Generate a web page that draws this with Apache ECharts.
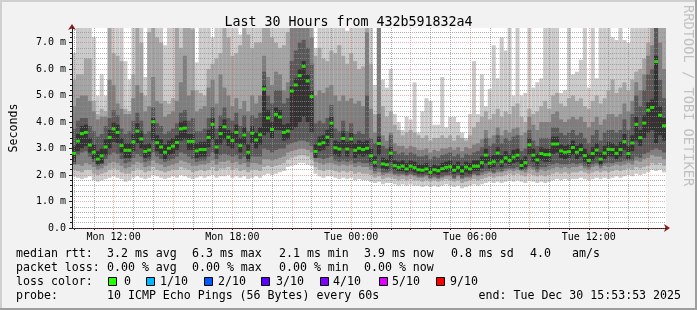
<!DOCTYPE html>
<html>
<head>
<meta charset="utf-8">
<script src="https://cdn.jsdelivr.net/npm/echarts@6/dist/echarts.min.js"></script>
<style>
  html, body { margin: 0; padding: 0; background: #f2f2f2; }
  #chart { width: 697px; height: 310px; }
</style>
</head>
<body>
<div id="chart"></div>
<script>
// 150 steps of 12 minutes, Mon 09:54 .. Tue 15:54 (ms)
const medianRtt = [
  2.82,3.28,3.56,3.61,3.13,2.86,2.60,2.72,3.06,3.42,3.74,3.61,3.11,2.93,2.93,3.25,3.66,3.36,2.89,2.94,4.01,3.22,3.06,2.86,3.01,3.09,3.23,3.74,3.77,3.27,3.27,2.91,2.96,2.96,3.42,3.91,3.06,3.56,
  3.82,3.43,3.30,3.61,3.11,3.51,2.86,3.58,3.32,3.52,5.25,4.15,3.72,4.29,4.19,3.61,3.66,5.17,5.40,5.75,6.10,5.55,4.96,2.89,3.17,3.22,3.43,3.96,3.03,2.98,3.38,2.98,3.36,2.93,3.01,2.96,3.01,2.72,
  2.48,3.19,2.42,2.39,2.83,2.35,2.29,2.33,2.23,2.33,2.28,2.20,2.18,2.23,2.10,2.20,2.16,2.24,2.29,2.31,2.18,2.29,2.15,2.30,2.23,2.33,2.33,2.47,2.75,2.45,2.50,2.83,2.50,2.65,2.55,2.68,2.75,
  2.36,2.47,3.14,2.75,2.57,2.81,2.77,2.77,3.17,3.17,2.91,2.86,2.88,3.04,2.86,2.96,2.73,2.55,2.81,2.94,2.60,2.83,2.97,2.96,2.82,2.96,3.26,2.81,3.21,3.91,3.41,3.96,4.45,4.55,6.28,4.26,3.86
];

// sorted pings per step, ping1 = fastest .. ping10 = slowest (ms)
const ping1 = [
  1.95,1.9,1.85,1.9,1.95,1.8,1.75,1.8,1.85,1.9,1.95,1.9,1.85,1.75,1.8,1.9,1.95,1.9,1.85,1.9,2.0,1.95,1.9,1.85,1.9,1.95,1.9,2.0,1.95,1.9,1.85,1.9,1.95,1.9,1.95,2.0,1.9,1.95,
  1.95,2.0,1.9,1.95,1.9,1.95,1.85,1.9,1.95,1.9,2.0,2.05,2.0,2.05,2.1,2.15,2.3,2.35,2.4,2.45,2.45,2.4,2.35,2.05,1.95,1.9,1.95,1.95,1.9,1.85,1.9,1.85,1.9,1.8,1.85,1.8,1.8,1.75,
  1.7,1.75,1.65,1.7,1.7,1.65,1.6,1.65,1.6,1.65,1.6,1.6,1.55,1.6,1.55,1.6,1.55,1.6,1.65,1.6,1.55,1.6,1.5,1.55,1.6,1.65,1.6,1.65,1.7,1.75,1.7,1.75,1.7,1.75,1.8,1.75,1.8,
  1.75,1.7,1.8,1.75,1.7,1.75,1.7,1.75,1.8,1.85,1.8,1.85,1.8,1.85,1.85,1.9,1.85,1.8,1.85,1.9,1.85,1.9,1.85,1.9,1.95,1.9,1.95,2.0,1.95,2.05,2.0,2.05,2.1,2.2,2.15,2.2,2.1
];
const ping2 = [
  2.2,2.15,2.1,2.2,2.2,2.05,2.0,2.05,2.1,2.2,2.25,2.2,2.1,2.05,2.05,2.15,2.25,2.2,2.1,2.15,2.3,2.2,2.15,2.1,2.15,2.2,2.2,2.3,2.25,2.2,2.1,2.15,2.2,2.15,2.2,2.3,2.15,2.25,
  2.25,2.3,2.2,2.25,2.15,2.2,2.1,2.2,2.2,2.15,2.3,2.35,2.3,2.35,2.4,2.45,2.6,2.65,2.7,2.75,2.75,2.7,2.6,2.3,2.2,2.15,2.2,2.2,2.15,2.1,2.15,2.1,2.15,2.05,2.1,2.05,2.05,2.0,
  1.9,1.95,1.85,1.9,1.9,1.85,1.8,1.85,1.8,1.85,1.8,1.8,1.75,1.8,1.75,1.8,1.75,1.8,1.85,1.8,1.75,1.8,1.7,1.75,1.8,1.85,1.8,1.85,1.9,1.95,1.9,1.95,1.95,2.0,2.05,2.0,2.05,
  2.0,1.95,2.05,2.0,1.95,2.0,1.95,2.0,2.05,2.1,2.05,2.1,2.05,2.1,2.1,2.15,2.1,2.05,2.1,2.15,2.1,2.15,2.1,2.15,2.2,2.15,2.2,2.25,2.2,2.3,2.25,2.3,2.35,2.45,2.4,2.45,2.35
];
const ping3 = [
  2.4,2.4,2.35,2.45,2.4,2.3,2.2,2.25,2.35,2.45,2.5,2.45,2.35,2.25,2.3,2.4,2.5,2.45,2.3,2.35,2.55,2.45,2.4,2.3,2.35,2.4,2.45,2.55,2.5,2.45,2.35,2.35,2.4,2.4,2.45,2.55,2.4,2.5,
  2.5,2.55,2.45,2.5,2.4,2.45,2.3,2.45,2.45,2.4,2.6,2.6,2.55,2.6,2.65,2.7,2.85,2.9,2.95,3.0,3.0,2.95,2.85,2.5,2.45,2.4,2.45,2.45,2.4,2.35,2.4,2.35,2.4,2.3,2.35,2.3,2.3,2.2,
  2.05,2.1,2.0,2.05,2.05,2.0,1.95,2.0,1.95,2.0,1.95,1.9,1.9,1.95,1.85,1.9,1.85,1.9,1.95,1.95,1.85,1.95,1.85,1.9,1.9,2.0,1.95,2.0,2.05,2.1,2.05,2.1,2.1,2.15,2.2,2.15,2.2,
  2.15,2.1,2.25,2.2,2.1,2.2,2.15,2.2,2.25,2.3,2.25,2.3,2.25,2.3,2.3,2.35,2.25,2.2,2.3,2.35,2.25,2.35,2.3,2.35,2.4,2.35,2.4,2.45,2.4,2.55,2.5,2.6,2.65,2.75,2.7,2.7,2.6
];
const ping4 = [
  2.4,2.75,2.85,2.9,2.7,2.5,2.35,2.4,2.6,2.75,2.85,2.8,2.6,2.45,2.5,2.65,2.8,2.7,2.5,2.55,2.85,2.7,2.6,2.5,2.55,2.6,2.7,2.85,2.8,2.7,2.6,2.5,2.55,2.55,2.7,2.85,2.6,2.75,
  2.8,2.75,2.7,2.75,2.6,2.7,2.5,2.7,2.7,2.7,3.0,2.95,2.85,2.95,3.0,3.0,3.15,3.2,3.25,3.3,3.3,3.25,3.1,2.65,2.65,2.6,2.65,2.7,2.55,2.5,2.55,2.5,2.55,2.45,2.5,2.45,2.45,2.35,
  2.15,2.25,2.1,2.1,2.15,2.05,2.05,2.05,2.0,2.05,2.0,1.95,1.95,2.0,1.9,1.95,1.9,1.95,2.0,2.0,1.9,2.0,1.9,1.95,1.95,2.05,2.0,2.1,2.15,2.15,2.1,2.2,2.15,2.25,2.25,2.25,2.3,
  2.2,2.2,2.35,2.3,2.2,2.3,2.3,2.35,2.4,2.45,2.4,2.4,2.4,2.45,2.4,2.45,2.35,2.3,2.4,2.45,2.35,2.45,2.45,2.45,2.5,2.5,2.55,2.55,2.55,2.7,2.65,2.8,2.85,2.95,3.0,2.95,2.85
];
const ping5 = [
  2.5,2.9,3.0,3.1,2.85,2.6,2.4,2.45,2.75,3.0,3.25,3.2,2.85,2.65,2.65,2.9,3.2,3.0,2.65,2.7,3.3,2.9,2.8,2.6,2.75,2.8,2.95,3.3,3.35,2.95,2.95,2.65,2.7,2.7,3.05,3.35,2.8,3.15,
  3.35,3.1,3.0,3.2,2.85,3.15,2.6,3.2,3.0,3.15,3.5,3.6,3.4,3.7,3.7,3.3,3.35,3.7,3.8,4.0,4.2,4.0,3.6,2.65,2.9,2.95,3.1,3.4,2.75,2.7,3.0,2.7,3.0,2.65,2.75,2.7,2.75,2.5,
  2.3,2.75,2.25,2.2,2.5,2.2,2.15,2.15,2.1,2.15,2.1,2.05,2.05,2.1,2.0,2.05,2.0,2.1,2.1,2.15,2.05,2.1,2.0,2.1,2.05,2.15,2.15,2.25,2.45,2.25,2.3,2.5,2.3,2.45,2.35,2.45,2.5,
  2.2,2.3,2.75,2.5,2.35,2.55,2.5,2.5,2.8,2.85,2.65,2.6,2.65,2.75,2.6,2.7,2.5,2.4,2.55,2.7,2.4,2.6,2.7,2.7,2.6,2.7,2.95,2.6,2.9,3.3,3.1,3.4,3.6,3.7,3.2,3.5,3.3
];
const ping6 = [
  3.1,3.55,3.85,3.9,3.4,3.15,2.9,3.0,3.35,3.7,4.0,3.9,3.4,3.2,3.2,3.55,3.95,3.65,3.15,3.2,4.15,3.5,3.35,3.15,3.3,3.4,3.5,4.0,4.05,3.55,3.55,3.2,3.25,3.25,3.7,4.15,3.35,3.85,
  4.1,3.7,3.6,3.9,3.4,3.8,3.15,3.85,3.6,3.8,5.4,4.45,4.0,4.55,4.45,3.9,3.95,5.35,5.65,6.0,6.3,5.8,5.2,3.15,3.45,3.5,3.7,4.2,3.3,3.25,3.65,3.25,3.6,3.2,3.3,3.25,3.3,3.0,
  2.7,3.45,2.65,2.6,3.05,2.55,2.5,2.55,2.45,2.55,2.5,2.4,2.4,2.45,2.3,2.4,2.35,2.45,2.5,2.55,2.4,2.5,2.35,2.5,2.45,2.55,2.55,2.7,3.0,2.7,2.75,3.05,2.75,2.9,2.8,2.95,3.0,
  2.6,2.7,3.4,3.0,2.8,3.05,3.0,3.0,3.45,3.45,3.15,3.1,3.15,3.3,3.1,3.2,3.0,2.8,3.05,3.2,2.85,3.1,3.25,3.2,3.1,3.25,3.55,3.1,3.5,4.2,3.7,4.25,4.75,4.85,6.5,4.6,4.15
];
const ping7 = [
  3.75,4.05,4.15,4.15,3.85,3.65,3.45,3.55,3.85,4.15,4.45,4.25,3.75,3.55,3.65,4.05,4.35,4.05,3.55,3.65,4.55,3.95,3.85,3.55,3.65,3.75,3.95,4.35,4.45,4.05,4.15,3.65,3.65,3.75,4.15,4.55,3.75,4.25,
  4.55,4.15,4.05,4.35,3.85,4.25,3.65,4.25,4.15,4.35,5.9,5.0,4.7,5.2,5.2,4.7,4.9,6.3,6.7,7.0,7.1,6.8,6.2,3.95,4.05,3.95,4.15,4.65,3.75,3.65,4.05,3.65,3.95,3.55,3.65,3.55,5.0,3.4,
  3.2,4.3,3.1,3.0,3.5,2.9,2.8,2.85,2.75,2.85,2.8,2.7,2.7,2.75,2.6,2.7,2.65,2.75,2.8,2.85,2.7,2.8,2.65,2.8,2.75,2.85,2.9,3.05,3.4,3.1,3.2,3.5,3.2,3.4,3.3,3.45,3.5,
  2.9,3.0,3.7,3.3,3.1,3.4,3.4,3.4,3.8,3.8,3.6,3.5,3.6,3.7,3.5,3.6,3.4,3.2,3.5,3.7,3.3,3.6,3.7,3.7,3.6,3.7,4.1,3.7,4.3,5.0,4.6,5.2,5.8,6.0,8.0,5.6,4.9
];
const ping8 = [
  4.6,4.9,5.0,5.0,4.8,4.4,4.1,4.2,4.2,5.6,5.4,4.7,4.5,4.3,4.3,4.9,5.4,5.1,4.4,4.6,5.7,4.8,4.7,4.2,4.3,4.4,4.8,5.5,6.5,5.0,5.2,4.4,4.5,4.6,5.3,5.6,4.7,5.8,
  5.3,5.0,4.6,4.9,4.5,4.8,4.4,5.0,4.7,5.0,6.5,5.7,5.4,5.9,5.8,5.2,5.5,7.6,7.8,8.0,8.0,7.8,7.2,5.0,5.2,5.1,5.3,5.4,5.0,4.8,5.0,4.8,4.9,4.7,4.8,4.6,7.4,4.5,
  3.6,8.0,3.5,3.3,3.6,3.2,3.1,3.1,3.0,3.1,3.05,2.95,2.95,3.0,2.85,2.95,2.9,3.0,3.0,3.05,2.95,3.05,2.9,3.05,3.0,3.15,3.2,3.35,3.7,3.4,3.5,3.8,3.5,3.7,3.6,3.75,3.8,
  3.5,3.6,4.2,3.9,3.7,4.0,4.0,4.0,4.3,4.4,4.1,4.0,4.1,4.2,4.1,4.2,4.0,3.8,4.0,4.2,3.9,4.1,4.3,4.3,4.2,4.3,4.7,4.4,4.8,5.5,5.2,5.8,6.5,6.9,8.0,7.0,6.0
];
const ping9 = [
  5.6,5.8,5.8,6.4,6.4,4.8,4.3,4.5,4.4,8.0,6.6,6.5,6.3,4.5,4.4,5.8,7.8,7.0,5.0,7.4,7.6,7.2,7.0,4.8,4.7,4.9,8.0,6.8,8.0,8.0,7.5,5.2,5.1,5.0,6.0,6.2,6.4,6.6,
  7.8,7.2,6.5,6.6,6.9,8.0,7.3,6.8,7.0,7.0,8.0,8.0,7.2,7.0,6.8,6.9,7.4,8.0,8.0,8.0,8.0,8.0,8.0,6.5,6.8,6.4,6.3,6.7,6.6,6.9,6.5,6.2,6.6,6.3,6.0,6.1,8.0,6.2,
  4.3,8.0,4.6,4.2,4.4,3.9,3.7,3.5,3.6,3.7,3.6,3.5,3.4,3.5,3.3,3.4,3.4,3.5,3.4,3.5,3.3,3.5,3.4,3.3,3.5,3.8,4.0,4.2,4.4,4.1,4.3,4.5,4.2,4.4,4.3,4.6,4.7,
  4.2,4.0,4.5,4.3,4.4,4.6,4.8,4.5,5.0,5.1,4.7,4.6,4.9,5.0,4.8,4.9,4.6,4.5,4.8,5.0,4.7,4.9,5.2,5.6,5.1,5.3,5.5,5.2,5.6,5.9,6.0,6.4,7.0,7.6,8.0,8.0,7.8
];
const ping10 = [
  6.6,8,8,8,8,7.2,5.0,5.8,5.0,8,8,8,8,6.3,5.6,8,8,8,5.7,8,8,8,8,6.9,8,8,8,8,8,8,8,6.25,8,8,8,7.2,8,8,
  8,8,8,8,7.3,8,8,8,8,8,8,8,8,8,8,8,8,8,8,8,8,8,8,6.8,8,8,8,8,8,8,8,7.45,8,8,8,8,8,8,
  5.4,8,5.6,5.3,6.0,4.3,4.0,3.7,4.2,4.1,5.5,3.6,4.4,4.9,4.8,3.9,3.9,5.7,3.8,4.2,4.2,4.0,3.6,3.4,4.3,6.3,4.3,5.8,4.6,5.25,6.9,5.65,7.2,6.7,8,5.0,8,
  5.0,5.1,8,5.3,5.5,5.65,8,8,8,8,5.1,5.2,8,5.8,5.9,6.35,8,5.3,8,5.65,8,8,8,7.2,7.1,8,7.1,7.0,8,8,8,8,8,8,8,8,8
];

// time axis (hours since Mon 00:00)
const startHour = 9.9;
const endHour = 39.9;
const stepHours = 0.2;
const hourTicks = [10,11,12,13,14,15,16,17,18,19,20,21,22,23,24,25,26,27,28,29,30,31,32,33,34,35,36,37,38,39];
const labelHours = [12, 18, 24, 30, 36];
const labelTexts = ['Mon 12:00', 'Mon 18:00', 'Tue 00:00', 'Tue 06:00', 'Tue 12:00'];
const yMajor = [0, 1, 2, 3, 4, 5, 6, 7];
const yMinor = [];
for (let i = 1; i <= 37; i++) if (i % 5) yMinor.push(+(i * 0.2).toFixed(1));
const yMax = 7.55;

// legend texts
const rttStats = ['3.2 ms avg', '6.3 ms max', '2.1 ms min', '3.9 ms now', '0.8 ms sd', '4.0', 'am/s'];
const lossStats = ['0.00 % avg', '0.00 % max', '0.00 % min', '0.00 % now'];
const lossLabels = ['0', '1/10', '2/10', '3/10', '4/10', '5/10', '9/10'];
const lossColors = ['#26ff00', '#00b8ff', '#0059ff', '#5e00ff', '#7e00ff', '#dd00ff', '#ff0000'];
const probeText = '10 ICMP Echo Pings (56 Bytes) every 60s';
const endText = 'end: Tue Dec 30 15:53:53 2025';

const MONO = '"DejaVu Sans Mono", monospace';
const chart = echarts.init(document.getElementById('chart'));

const steps = medianRtt.map((_, i) => (startHour + stepHours * (i + 0.5)).toFixed(1));

// smoke: band i spans ping(i) .. ping(11-i), darker towards the median
const bands = [
  [ping1, ping10, '#cacaca'],
  [ping2, ping9, '#a4a4a4'],
  [ping3, ping8, '#7e7e7e'],
  [ping4, ping7, '#585858'],
  [ping5, ping6, '#323232']
];
const series = [];
bands.forEach(([lo, hi, color], i) => {
  const common = { type: 'bar', stack: 'smoke' + i, barWidth: 4, barGap: '-100%', silent: true, z: 2 };
  series.push(Object.assign({}, common, { data: lo, itemStyle: { color: 'transparent' } }));
  series.push(Object.assign({}, common, {
    data: hi.map((v, j) => +(v - lo[j]).toFixed(3)),
    itemStyle: { color: color }
  }));
});
series.push({
  type: 'scatter',
  data: medianRtt,
  symbol: 'rect',
  symbolSize: [4, 3],
  itemStyle: { color: lossColors[0] },
  silent: true,
  z: 6
});

// legend rows drawn as plain text
const graphics = [];
function txt(x, y, s, align) {
  graphics.push({
    type: 'text', silent: true, z: 10,
    style: { x: x, y: y, text: s, font: '11.6px ' + MONO, fill: '#000',
             textAlign: align || 'left', textVerticalAlign: 'middle' }
  });
}
const rttX = [107, 192, 279, 364, 451, 530, 572];
const lossX = [107, 192, 279, 364];
const boxX = [108, 146, 204, 261, 320, 379, 436];
const boxLabelX = [124, 160, 218, 276, 333, 392, 450];
txt(16, 254, 'median rtt:');
rttStats.forEach((s, i) => txt(rttX[i], 254, s));
txt(16, 268, 'packet loss:');
lossStats.forEach((s, i) => txt(lossX[i], 268, s));
txt(16, 282, 'loss color:');
lossLabels.forEach((s, i) => {
  graphics.push({
    type: 'rect', silent: true, z: 10,
    shape: { x: boxX[i] + 0.5, y: 277.5, width: 8, height: 8 },
    style: { fill: lossColors[i], stroke: '#000', lineWidth: 1 }
  });
  txt(boxLabelX[i], 282, s);
});
txt(16, 296, 'probe:');
txt(107, 296, probeText);
txt(681, 296, endText, 'right');

// watermark on the right side
graphics.push({
  type: 'text', silent: true, z: 10,
  x: 688, y: 5, rotation: -Math.PI / 2,
  style: { x: 0, y: 0, text: 'RRDTOOL / TOBI OETIKER', font: '13.7px ' + MONO, fill: '#c2c2c2',
           textAlign: 'left', textVerticalAlign: 'middle' }
});

// 3d frame
graphics.push(
  { type: 'rect', silent: true, shape: { x: 0, y: 0, width: 697, height: 2 }, style: { fill: '#cfcfcf' } },
  { type: 'rect', silent: true, shape: { x: 0, y: 0, width: 2, height: 310 }, style: { fill: '#cfcfcf' } },
  { type: 'rect', silent: true, shape: { x: 0, y: 308, width: 697, height: 2 }, style: { fill: '#9e9e9e' } },
  { type: 'rect', silent: true, shape: { x: 695, y: 0, width: 2, height: 310 }, style: { fill: '#9e9e9e' } }
);

const gridGray = 'rgba(143,143,143,0.7)';
const gridRed = 'rgba(222,79,79,0.45)';

chart.setOption({
  animation: false,
  backgroundColor: '#f2f2f2',
  title: {
    text: 'Last 30 Hours from 432b591832a4',
    left: 'center',
    top: 11,
    textStyle: { fontFamily: MONO, fontSize: 13.3, fontWeight: 'normal', color: '#000' }
  },
  grid: { left: 66, top: 28, width: 600, height: 200, show: true, backgroundColor: '#ffffff', borderWidth: 0 },
  xAxis: [
    { type: 'category', data: steps, show: false, boundaryGap: true },
    {
      type: 'value', min: startHour, max: endHour, position: 'bottom', z: 3,
      axisLine: { show: true, onZero: false, lineStyle: { color: '#1f1f1f' } },
      axisTick: { show: true, length: 2, customValues: hourTicks, lineStyle: { color: '#1f1f1f' } },
      axisLabel: {
        customValues: labelHours,
        formatter: v => { const i = labelHours.indexOf(v); return i < 0 ? '' : labelTexts[i]; },
        fontFamily: MONO, fontSize: 10, color: '#000', margin: 4
      },
      splitLine: { show: true, lineStyle: { color: [gridGray, gridGray, gridRed], type: [1, 1], width: 1 } }
    },
    {
      type: 'value', min: startHour, max: endHour, position: 'bottom', z: 1,
      axisLine: { show: true, onZero: false, symbol: ['none', 'arrow'], symbolSize: [6, 6], symbolOffset: [0, 4],
                  lineStyle: { color: '#801f1f' } },
      axisTick: { show: false }, axisLabel: { show: false }, splitLine: { show: false }
    }
  ],
  yAxis: [
    {
      type: 'value', min: 0, max: yMax, interval: 1, z: 4,
      name: 'Seconds', nameLocation: 'middle', nameGap: 52, nameRotate: 90,
      nameTextStyle: { fontFamily: MONO, fontSize: 11.6, color: '#000' },
      axisLine: { show: true, onZero: false, lineStyle: { color: '#1f1f1f' } },
      axisTick: { show: true, length: 3, customValues: yMajor, lineStyle: { color: '#1f1f1f' } },
      axisLabel: {
        customValues: yMajor,
        formatter: v => (v === 0 ? '0.0' : (Number.isInteger(v) ? v.toFixed(1) + ' m' : '')),
        fontFamily: MONO, fontSize: 10, color: '#000', margin: 6
      },
      splitLine: { show: true, lineStyle: { color: gridRed, type: [1, 1], width: 1 } }
    },
    {
      type: 'value', min: 0, max: yMax, interval: 0.2, z: 3, position: 'left',
      axisLine: { show: true, onZero: false, symbol: ['none', 'arrow'], symbolSize: [6, 6], symbolOffset: [0, 4],
                  lineStyle: { color: '#801f1f' } },
      axisTick: { show: true, length: 2, customValues: yMinor, lineStyle: { color: '#1f1f1f' } },
      axisLabel: { show: false },
      splitLine: { show: true, lineStyle: { color: gridGray, type: [1, 1], width: 1 } }
    }
  ],
  series: series,
  graphic: { elements: graphics }
});
</script>
</body>
</html>
